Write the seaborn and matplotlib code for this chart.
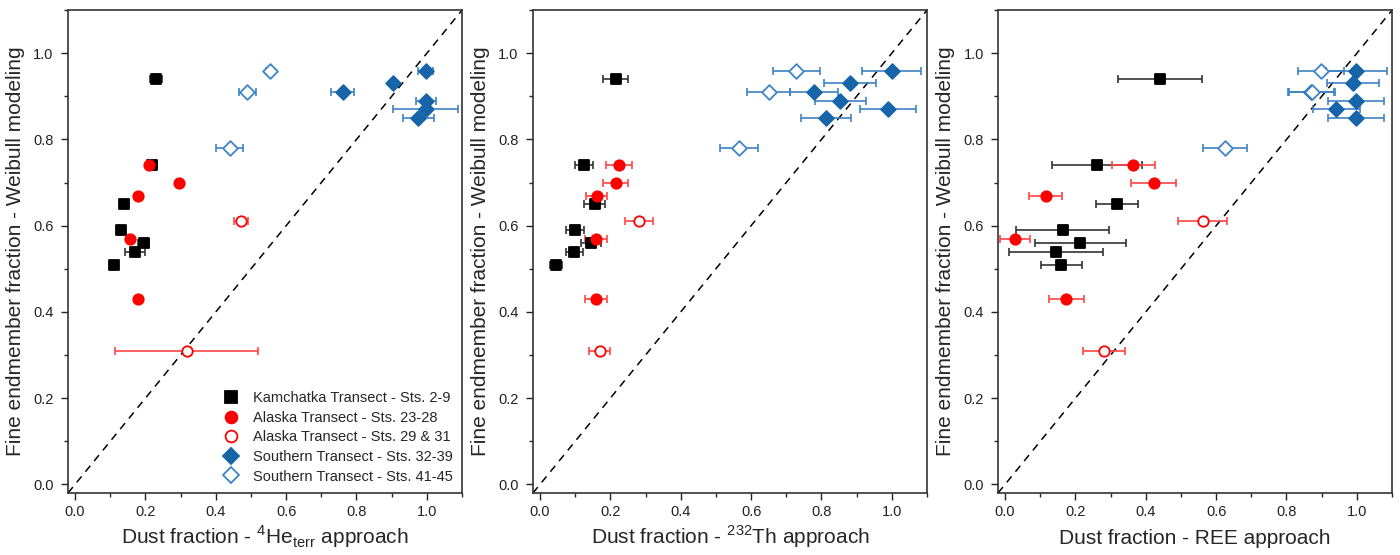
#Dust fraction vs Weibull fine endmember fraction

#Importing libraries
import numpy as np
import pandas as pd
import matplotlib.pyplot as plt
import seaborn as sns
from matplotlib.lines import Line2D
from matplotlib.ticker import MultipleLocator

#Data (y shared, x per approach)
kam_y = [0.94, 0.74, 0.65, 0.59, 0.56, 0.54, 0.51]
kam_he = [0.23, 0.22, 0.14, 0.13, 0.195, 0.17, 0.11]
kam_he_err = [0.018, 0.012, 0.008, 0.008, 0.016, 0.028, 0.008]
kam_th = [0.215, 0.125, 0.155, 0.10, 0.144, 0.098, 0.045]
kam_th_err = [0.036, 0.026, 0.03, 0.025, 0.028, 0.024, 0.018]
kam_ree = [0.44, 0.26, 0.318, 0.164, 0.214, 0.144, 0.16]
kam_ree_err = [0.119, 0.128, 0.06, 0.132, 0.13, 0.133, 0.059]

ak_y = [0.74, 0.70, 0.67, 0.57, 0.43]
ak_he = [0.21, 0.295, 0.18, 0.157, 0.178]
ak_he_err = [0, 0, 0, 0, 0]
ak_th = [0.225, 0.215, 0.161, 0.159, 0.16]
ak_th_err = [0.036, 0.036, 0.029, 0.031, 0.031]
ak_ree = [0.365, 0.422, 0.115, 0.029, 0.174]
ak_ree_err = [0.06, 0.063, 0.048, 0.043, 0.05]

ak2_y = [0.61, 0.31]
ak2_he = [0.472, 0.317]
ak2_he_err = [0.02, 0.203]
ak2_th = [0.282, 0.17]
ak2_th_err = [0.04, 0.03]
ak2_ree = [0.562, 0.282]
ak2_ree_err = [0.07, 0.06]

so_y = [0.96, 0.93, 0.91, 0.89, 0.87, 0.85]
so_he = [0.997, 0.905, 0.761, 0.997, 0.997, 0.976]
so_he_err = [0.021, 0.01, 0.033, 0.028, 0.093, 0.045]
so_th = [1.0, 0.882, 0.779, 0.854, 0.99, 0.813]
so_th_err = [0.084, 0.074, 0.068, 0.072, 0.08, 0.071]
so_ree = [0.998, 0.989, 0.87, 0.998, 0.942, 0.998]
so_ree_err = [0.087, 0.074, 0.065, 0.08, 0.067, 0.079]

so2_y = [0.96, 0.91, 0.78]
so2_he = [0.553, 0.49, 0.44]
so2_he_err = [0.01, 0.023, 0.038]
so2_th = [0.729, 0.65, 0.567]
so2_th_err = [0.066, 0.061, 0.054]
so2_ree = [0.898, 0.873, 0.626]
so2_ree_err = [0.066, 0.065, 0.063]

labels = ["Kamchatka Transect - Sts. 2-9",
          "Alaska Transect - Sts. 23-28",
          "Alaska Transect - Sts. 29 & 31",
          "Southern Transect - Sts. 32-39",
          "Southern Transect - Sts. 41-45"]

xlabels = [r"Dust fraction - $^{\mathregular{4}}$He$_{\mathregular{terr}}$ approach",
           r"Dust fraction - $^{\mathregular{232}}$Th approach",
           "Dust fraction - REE approach"]

sns.set_style("ticks")
plt.rcParams['font.family'] = ['Liberation Sans', 'DejaVu Sans']
plt.rcParams['mathtext.fontset'] = 'custom'
plt.rcParams['mathtext.rm'] = 'Liberation Sans'

# group styles: (marker, face, edge, errcolor, size)
styles = [("s", "black", "black", "#333333", 7.5),
          ("o", "red", "red", "#ff4444", 7.5),
          ("o", "white", "red", "#ff4444", 7.5),
          ("D", "#1565a8", "#1565a8", "#3f83c4", 7.5),
          ("D", "white", "#3d84c6", "#3f83c4", 7.5)]

groups = [
    (kam_y, [(kam_he, kam_he_err), (kam_th, kam_th_err), (kam_ree, kam_ree_err)]),
    (ak_y, [(ak_he, ak_he_err), (ak_th, ak_th_err), (ak_ree, ak_ree_err)]),
    (ak2_y, [(ak2_he, ak2_he_err), (ak2_th, ak2_th_err), (ak2_ree, ak2_ree_err)]),
    (so_y, [(so_he, so_he_err), (so_th, so_th_err), (so_ree, so_ree_err)]),
    (so2_y, [(so2_he, so2_he_err), (so2_th, so2_th_err), (so2_ree, so2_ree_err)]),
]

fig = plt.figure(figsize=(14, 5.55), dpi=100)
lefts = [0.0486, 0.3807, 0.7129]

for p in range(3):
    ax = fig.add_axes([lefts[p], 0.1117, 0.2814, 0.870])
    ax.plot([-0.02, 1.1], [-0.02, 1.1], color="black", lw=1.1,
            linestyle=(0, (5, 4)), zorder=1)
    for g, (yv, xs) in enumerate(groups):
        marker, face, edge, ecol, ms = styles[g]
        xv, xe = xs[p]
        df = pd.DataFrame({"x": xv, "y": yv, "xerr": xe})
        ax.errorbar(df["x"], df["y"], xerr=df["xerr"], fmt="none",
                    ecolor=ecol, elinewidth=1.2, capsize=2.6, capthick=1.2,
                    zorder=2)
        sns.scatterplot(data=df, x="x", y="y", marker=marker, s=ms ** 2,
                        color=face, edgecolor=edge, linewidth=1.3,
                        ax=ax, zorder=3, legend=False)
    ax.set_xlim(-0.02, 1.1)
    ax.set_ylim(-0.02, 1.1)
    ax.xaxis.set_major_locator(MultipleLocator(0.2))
    ax.xaxis.set_minor_locator(MultipleLocator(0.1))
    ax.yaxis.set_major_locator(MultipleLocator(0.2))
    ax.yaxis.set_minor_locator(MultipleLocator(0.1))
    ax.tick_params(which="major", direction="out", length=4.8, width=1,
                   labelsize=10.5, colors="#222222")
    ax.tick_params(axis="x", which="major", pad=4)
    ax.tick_params(axis="y", which="major", pad=5.5)
    ax.tick_params(which="minor", direction="out", length=3.1, width=1)
    for sp in ax.spines.values():
        sp.set_linewidth(1.2)
        sp.set_color("#333333")
    ax.set_xlabel(xlabels[p], fontsize=15, va="baseline")
    ax.xaxis.set_label_coords(0.5, -0.106)
    ax.set_ylabel("Fine endmember fraction - Weibull modeling", fontsize=15,
                  labelpad=6)

    if p == 0:
        handles = []
        for g in range(5):
            marker, face, edge, ecol, ms = styles[g]
            handles.append(Line2D([], [], marker=marker, linestyle="none",
                                  markersize=ms * 1.13, markerfacecolor=face,
                                  markeredgecolor=edge, markeredgewidth=1.3))
        ax.legend(handles, labels, loc="lower right", frameon=False,
                  fontsize=10.5, handletextpad=0.45, labelspacing=0.38,
                  borderaxespad=0.25, bbox_to_anchor=(1.0, 0.0))

plt.savefig("out.png", dpi=100)
